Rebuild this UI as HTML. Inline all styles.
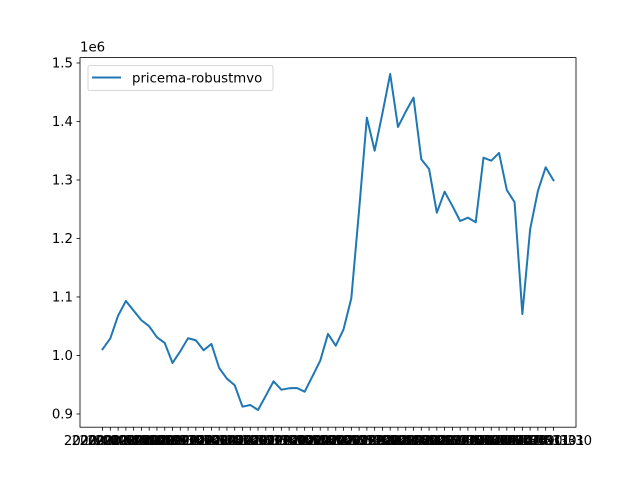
<!DOCTYPE html>
<html><head><meta charset="utf-8"><style>
body{margin:0;background:#fff}
svg{display:block;font-family:"DejaVu Sans","Liberation Sans",sans-serif}
</style></head><body>
<svg id="chart" width="640" height="480" viewBox="0 0 640 480">
<rect width="640" height="480" fill="#fff"/>
<g id="plot"></g>
</svg>
<script>
const values = [1010600,1029400,1068000,1093200,1076600,1060200,1049900,1031100,1021400,987200,1007200,1029400,1026000,1008900,1019700,978600,960300,949100,912500,915400,906800,931300,955900,941500,943900,944400,938100,964400,991100,1036800,1016800,1044800,1097800,1248700,1406500,1350100,1414000,1481200,1390600,1416800,1440700,1335400,1318800,1244100,1280000,1255600,1229900,1235600,1227700,1338100,1333000,1346200,1282900,1261900,1070900,1215700,1281200,1321700,1299500];
const yTicks = [900000,1000000,1100000,1200000,1300000,1400000,1500000];
const yTickLabels = ["0.9","1.0","1.1","1.2","1.3","1.4","1.5"];
const seriesName = "pricema-robustmvo";
const startDate = [2020,0,31];
const categories = values.map((v,i)=>{const d=new Date(Date.UTC(startDate[0],startDate[1]+i+1,0));return d.toISOString().slice(0,10);});

const NS="http://www.w3.org/2000/svg";
const L=80,R=576,T=57.6,B=427.2;
const n=values.length;
const xMin=-(n-1)*0.05, xMax=(n-1)*1.05;
const yMin=877400, yMax=1509200;
const xs=i=>L+(i-xMin)/(xMax-xMin)*(R-L);
const ys=v=>B-(v-yMin)/(yMax-yMin)*(B-T);
const g=document.getElementById('plot');
function mk(tag,attrs,parent){const e=document.createElementNS(NS,tag);for(const k in attrs)e.setAttribute(k,attrs[k]);(parent||g).appendChild(e);return e;}

// y ticks
yTicks.forEach((t,i)=>{
  const y=ys(t);
  const tk=mk('line',{x1:L-3.5,x2:L,y1:y,y2:y,stroke:'#000','stroke-width':0.8});
  
  
  const tx=mk('text',{x:L-7,y:y+4.5,'text-anchor':'end','font-size':13.3,fill:'#000'});
  tx.textContent=yTickLabels[i];
  
  
});
const off=mk('text',{x:L,y:T-6,'font-size':13.3,fill:'#000'});
off.textContent='1e6';



// x ticks
categories.forEach((c,i)=>{
  const x=xs(i);
  const tk=mk('line',{x1:x,x2:x,y1:B,y2:B+3.5,stroke:'#000','stroke-width':0.8});
  
  
  const tx=mk('text',{x:x,y:B+18,'text-anchor':'middle','font-size':13.3,fill:'#000'});
  tx.textContent=c;
  
  
});

// line
const pts=values.map((v,i)=>xs(i).toFixed(2)+','+ys(v).toFixed(2)).join(' ');
const pl=mk('polyline',{points:pts,fill:'none',stroke:'#1f77b4','stroke-width':2,'stroke-linejoin':'round','stroke-linecap':'square'});



// frame
const fr=mk('rect',{x:L,y:T,width:R-L,height:B-T,fill:'none',stroke:'#000','stroke-width':0.8});



// legend
const lg=mk('g',{});


mk('rect',{x:88,y:65.5,width:185,height:25,rx:2,fill:'#fff','fill-opacity':0.8,stroke:'#ccc','stroke-width':0.8},lg);
const ll=mk('line',{x1:92,x2:121,y1:77.5,y2:77.5,stroke:'#1f77b4','stroke-width':2},lg);


const lt=mk('text',{x:132,y:82.5,'font-size':13.3,fill:'#000'},lg);
lt.textContent=seriesName;


</script>
</body></html>
